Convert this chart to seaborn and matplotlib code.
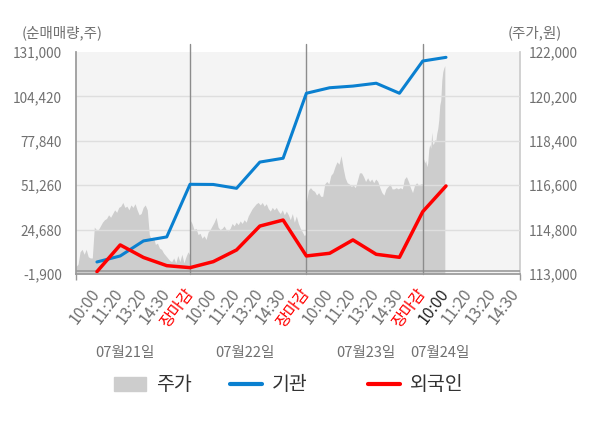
import matplotlib
matplotlib.use('Agg')
import matplotlib.pyplot as plt
import numpy as np
import pandas as pd
import seaborn as sns
from matplotlib.lines import Line2D
from matplotlib.patches import Patch

# x labels (category slots)
tick_labels = ['10:00', '11:20', '13:20', '14:30', '장마감',
               '10:00', '11:20', '13:20', '14:30', '장마감',
               '10:00', '11:20', '13:20', '14:30', '장마감',
               '10:00', '11:20', '13:20', '14:30']
dates = ['07월21일', '07월22일', '07월23일', '07월24일']

# net buying (shares), one value per slot
inst = [5300, 8900, 17900, 20300, 51800, 51700, 49400, 65100, 67400,
        106300, 109600, 110600, 112300, 106300, 125600, 127800]
foreign = [-500, 15500, 8000, 3100, 1900, 5500, 12500, 26800, 30400,
           8900, 10500, 18500, 9900, 8100, 35400, 50800]

# intraday price (won), per day
day1_price = [113300, 113400, 113900, 114000, 113800, 114000, 113700, 113650, 113650,
              114900, 114800, 114800, 114950, 115100, 115200, 115250, 115400, 115300,
              115450, 115600, 115500, 115700, 115750, 115900, 115700, 115750, 115600,
              115800, 115700, 115850, 115600, 115400, 115450, 115700, 115800, 115600,
              114600, 114400, 114500, 114200, 114250, 114050, 114000, 113850, 113750,
              113650, 113550, 113500, 113650, 113450, 113750, 113500, 113800, 113450,
              113700, 113900, 113750]
day2_price = [115200, 115050, 114800, 114850, 114600, 114650, 114450, 114550, 114400,
              114700, 114800, 114950, 115100, 115300, 114900, 114800, 114850, 114950,
              114800, 114750, 114850, 115050, 114950, 115100, 115000, 115150, 115050,
              115200, 115100, 115350, 115500, 115650, 115750, 115850, 115900, 115800,
              115900, 115750, 115850, 115650, 115550, 115700, 115600, 115700, 115550,
              115450, 115600, 115400, 115550, 115400, 115200, 115450, 115100, 115350,
              115050, 114850, 114700, 114550, 114650]
day3_price = [115900, 116400, 116500, 116400, 116350, 116200, 116300, 116150, 116150,
              116650, 116750, 116650, 117000, 117100, 117350, 117550, 117450, 117800,
              117300, 116900, 116700, 116650, 116550, 116600, 116500, 116800, 117100,
              117100, 116950, 116750, 116900, 116750, 116850, 116700, 116850, 116750,
              116500, 116300, 116200, 116450, 116550, 116650, 116450, 116450, 116500,
              116450, 116500, 116450, 116850, 116950, 116750, 116500, 116300, 116600,
              116700, 116600, 116650, 116650]
day4_price = [117750, 117650, 117500, 117600, 117350, 117500, 118050, 118250, 118100,
              118750, 118250, 118300, 118450, 118400, 118700, 118900, 119250, 119850,
              120050, 120850, 121200, 121350, 121450]
day4_last_min = 74  # minutes after 09:00 of the last price

left_ticks = [-1900, 24680, 51260, 77840, 104420, 131000]
right_ticks = [113000, 114800, 116600, 118400, 120200, 122000]

sns.set_theme(style='white')
plt.rcParams['font.family'] = ['Noto Sans CJK KR', 'DejaVu Sans']

blue = '#0a80d0'
red = '#ff0000'
area = '#cdcdcd'
txt = '#707070'

fig = plt.figure(figsize=(6, 4.28), dpi=100)
ax = fig.add_axes([76 / 600, 1 - 274 / 428, 444 / 600, 222 / 428])
ax2 = ax.twinx()
ax.set_zorder(ax2.get_zorder() + 1)
ax.patch.set_visible(False)
ax2.patch.set_visible(True)
ax2.patch.set_facecolor('#f4f4f4')

xmin, xmax = -0.9, 18.18
close_idx = [i for i, t in enumerate(tick_labels) if t == '장마감']

# price area on right axis
starts = [xmin] + close_idx
ends = close_idx + [close_idx[-1] + 5 * day4_last_min / 390]
for p, s, e in zip([day1_price, day2_price, day3_price, day4_price], starts, ends):
    xs = np.linspace(s, e, len(p))
    ax2.fill_between(xs, p, right_ticks[0], color=area, lw=0)

ax2.set_ylim(right_ticks[0], right_ticks[-1])
ax2.set_yticks(right_ticks)
ax2.set_yticklabels([f'{v:,}' for v in right_ticks])

# lines on left axis
df = pd.DataFrame({'slot': np.arange(len(inst)), '기관': inst, '외국인': foreign})
sns.lineplot(data=df, x='slot', y='기관', ax=ax, color=blue, lw=2.2)
sns.lineplot(data=df, x='slot', y='외국인', ax=ax, color=red, lw=2.5)

ax.set_ylim(left_ticks[0], left_ticks[-1])
ax.set_yticks(left_ticks)
ax.set_yticklabels([f'{v:,}' for v in left_ticks])
ax.set_xlim(xmin, xmax)
ax.set_xlabel('')
ax.set_ylabel('')

for v in left_ticks[1:-1]:
    ax.axhline(v, color='#dedede', lw=1, zorder=0)
ax.axhline(0, color='#9a9a9a', lw=1.2, zorder=1)
for c in close_idx:
    ax.axvline(c, ymin=0, ymax=1.035, color='#8c8c8c', lw=1, clip_on=False, zorder=1)

ax.set_xticks(range(len(tick_labels)))
ax.set_xticklabels(tick_labels, rotation=53, ha='right', va='center',
                   rotation_mode='anchor', fontsize=11.5, color=txt)
ax.set_xticks([xmin] + close_idx + [xmax], minor=True)
ax.tick_params(axis='x', which='major', length=0, pad=12)
ax.tick_params(axis='x', which='minor', length=4, color='#999999', width=1, bottom=True)
for i, lab in enumerate(ax.get_xticklabels()):
    if i in close_idx:
        lab.set_color(red)
    elif i == len(inst) - 1:
        lab.set_color('#222222')

ax.tick_params(axis='y', length=0, pad=10, labelsize=9.8, labelcolor=txt)
ax2.tick_params(axis='y', length=0, pad=6, labelsize=9.8, labelcolor=txt)

for a in (ax, ax2):
    a.spines['top'].set_visible(False)
ax.spines['right'].set_visible(False)
ax.spines['left'].set_color('#999999')
ax.spines['bottom'].set_color('#999999')
ax2.spines['left'].set_visible(False)
ax2.spines['bottom'].set_visible(False)
ax2.spines['right'].set_color('#cccccc')

# date labels under the ticks
date_pos = [1.2, 6.36, 11.54, 14.76]
for d, x in zip(dates, date_pos):
    ax.text(x, -0.356, d, transform=ax.get_xaxis_transform(), ha='center', va='center',
            fontsize=10.5, color=txt)

fig.text(22 / 600, 1 - 33 / 428, '(순매매량,주)', ha='left', va='center', fontsize=10.5, color=txt)
fig.text(562 / 600, 1 - 33 / 428, '(주가,원)', ha='right', va='center', fontsize=10.5, color=txt)

handles = [Patch(color=area), Line2D([], [], color=blue, lw=3), Line2D([], [], color=red, lw=3)]
legend_x = [114, 230, 368]
for h, lab, x in zip(handles, ['주가', '기관', '외국인'], legend_x):
    fig.legend([h], [lab], loc='center left', bbox_to_anchor=(x / 600, 1 - 385 / 428),
               frameon=False, borderpad=0, borderaxespad=0, fontsize=14,
               handlelength=1.65, handletextpad=0.5, labelcolor='#333333')

fig.savefig('out.png', dpi=100)
